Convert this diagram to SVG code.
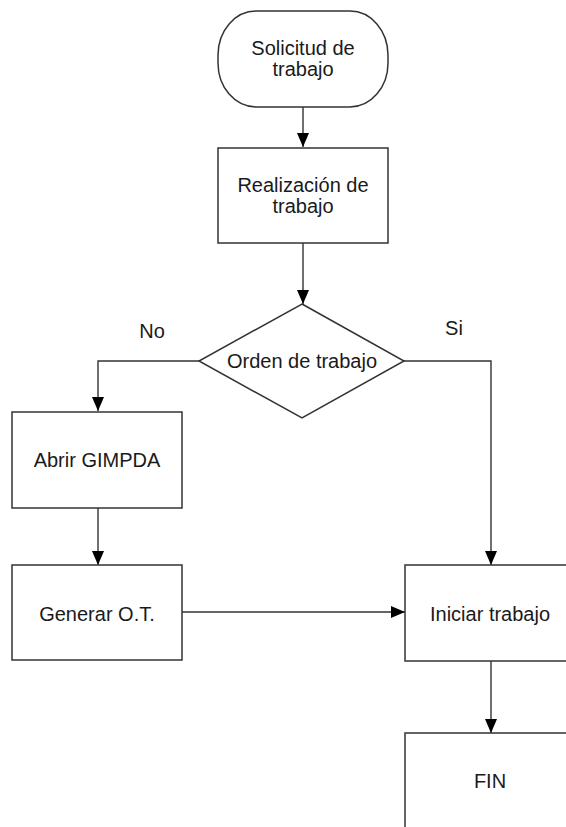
<svg xmlns="http://www.w3.org/2000/svg" width="566" height="827" viewBox="0 0 566 827">
<defs>
<style>
.shape{fill:#fff;stroke:#333;stroke-width:1.5}
.lbl{font-family:"Liberation Sans",Arial,sans-serif;font-size:20px;fill:#1a1a1a;text-anchor:middle}
.conn{fill:none;stroke:#333;stroke-width:1.4}
</style>
<marker id="arr" viewBox="0 0 14 12" refX="14" refY="6" markerWidth="14" markerHeight="12" markerUnits="userSpaceOnUse" orient="auto">
<path d="M0,0 L14,6 L0,12 Z" fill="#000"/>
</marker>
</defs>
<rect width="566" height="827" fill="#fff"/>
<g id="connectors">
<path class="conn" d="M303,107 V147" marker-end="url(#arr)"/>
<path class="conn" d="M303,243 V304" marker-end="url(#arr)"/>
<path class="conn" d="M199,361 H98 V411" marker-end="url(#arr)"/>
<path class="conn" d="M404,361 H491 V565" marker-end="url(#arr)"/>
<path class="conn" d="M98,508 V565" marker-end="url(#arr)"/>
<path class="conn" d="M182,612 H405" marker-end="url(#arr)"/>
<path class="conn" d="M491,661 V733" marker-end="url(#arr)"/>
<text class="lbl" x="152" y="338">No</text>
<text class="lbl" x="454" y="335">Si</text>
</g>
<g id="solicitud">
<rect class="shape" x="218" y="11" width="170" height="96" rx="38" ry="44"/>
<text class="lbl" x="303" y="55">Solicitud de</text>
<text class="lbl" x="303" y="76">trabajo</text>
</g>
<g id="realizacion">
<rect class="shape" x="218" y="148" width="170" height="95"/>
<text class="lbl" x="303" y="192">Realización de</text>
<text class="lbl" x="303" y="213">trabajo</text>
</g>
<g id="orden">
<polygon class="shape" points="302,304 404,361 302,418 199,361"/>
<text class="lbl" x="302" y="368">Orden de trabajo</text>
</g>
<g id="abrir">
<rect class="shape" x="12" y="412" width="170" height="96"/>
<text class="lbl" x="97" y="467">Abrir GIMPDA</text>
</g>
<g id="generar">
<rect class="shape" x="12" y="565" width="170" height="95"/>
<text class="lbl" x="97" y="621">Generar O.T.</text>
</g>
<g id="iniciar">
<rect class="shape" x="405" y="565" width="170" height="96"/>
<text class="lbl" x="490" y="621">Iniciar trabajo</text>
</g>
<g id="fin">
<rect class="shape" x="405" y="733" width="170" height="100"/>
<text class="lbl" x="490" y="788">FIN</text>
</g>
</svg>
